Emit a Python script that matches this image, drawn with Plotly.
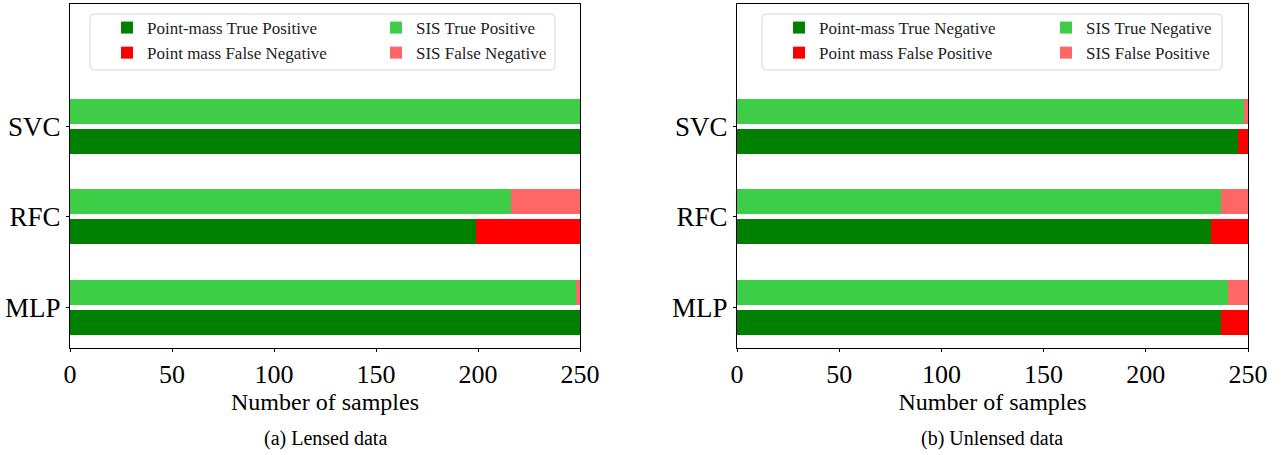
import plotly.graph_objects as go
from plotly.subplots import make_subplots

models = ['MLP', 'RFC', 'SVC']

# lensed data
lensed_pm_tp = [250, 199, 250]
lensed_pm_fn = [0, 51, 0]
lensed_sis_tp = [248, 216, 250]
lensed_sis_fn = [2, 34, 0]

# unlensed data
unlensed_pm_tn = [237, 232, 245]
unlensed_pm_fp = [13, 18, 5]
unlensed_sis_tn = [240, 237, 248]
unlensed_sis_fp = [10, 13, 2]

DARK = '#008000'
RED = '#ff0000'
LIGHT = '#3ecd46'
PINK = '#ff6666'
FONT = 'Liberation Serif'
W, H = 1281, 455

off = 0.166
w = 0.28
pos = list(range(len(models)))
pm_y = [p - off for p in pos]
sis_y = [p + off for p in pos]

fig = make_subplots(rows=1, cols=2)

def add_panel(col, pm_a, pm_b, sis_a, sis_b, names, legs):
  fig.add_trace(go.Bar(x=pm_a, y=pm_y, base=[0]*3, orientation='h', width=w,
    marker=dict(color=DARK, line=dict(width=0)), name=names[0], legend=legs[0]), row=1, col=col)
  fig.add_trace(go.Bar(x=pm_b, y=pm_y, base=pm_a, orientation='h', width=w,
    marker=dict(color=RED, line=dict(width=0)), name=names[1], legend=legs[0]), row=1, col=col)
  fig.add_trace(go.Bar(x=sis_a, y=sis_y, base=[0]*3, orientation='h', width=w,
    marker=dict(color=LIGHT, line=dict(width=0)), name=names[2], legend=legs[1]), row=1, col=col)
  fig.add_trace(go.Bar(x=sis_b, y=sis_y, base=sis_a, orientation='h', width=w,
    marker=dict(color=PINK, line=dict(width=0)), name=names[3], legend=legs[1]), row=1, col=col)

add_panel(1, lensed_pm_tp, lensed_pm_fn, lensed_sis_tp, lensed_sis_fn,
  ['Point-mass True Positive', 'Point mass False Negative', 'SIS True Positive', 'SIS False Negative'],
  ['legend', 'legend2'])
add_panel(2, unlensed_pm_tn, unlensed_pm_fp, unlensed_sis_tn, unlensed_sis_fp,
  ['Point-mass True Negative', 'Point mass False Positive', 'SIS True Negative', 'SIS False Positive'],
  ['legend3', 'legend4'])

axis_common = dict(showline=True, linecolor='black', linewidth=1, mirror=True,
  ticks='outside', ticklen=3, tickcolor='black', showgrid=False, zeroline=False,
  automargin=False)

fig.update_xaxes(range=[0, 250], tickvals=[0, 50, 100, 150, 200, 250],
  tickfont=dict(family=FONT, size=26, color='black'),
  title=dict(text='Number of samples', font=dict(family=FONT, size=24, color='black'), standoff=0),
  **axis_common)
fig.update_yaxes(range=[-0.45, 3.35], tickvals=pos, ticktext=models,
  tickfont=dict(family=FONT, size=27, color='black'), **axis_common)

def leg(xpx):
  return dict(orientation='v', x=xpx/W, y=1-10/H, xanchor='left', yanchor='top',
    font=dict(family=FONT, size=17, color='#222'), borderwidth=0,
    bgcolor='rgba(0,0,0,0)', traceorder='normal')

def rounded_box(x0, y0, x1, y1, r=4):
  x0, x1 = x0/W, x1/W
  y0, y1 = 1-y0/H, 1-y1/H
  rx, ry = r/W, r/H
  return dict(type='path', xref='paper', yref='paper',
    path=(f'M {x0+rx},{y0} L {x1-rx},{y0} Q {x1},{y0} {x1},{y0-ry} '
          f'L {x1},{y1+ry} Q {x1},{y1} {x1-rx},{y1} L {x0+rx},{y1} '
          f'Q {x0},{y1} {x0},{y1+ry} L {x0},{y0-ry} Q {x0},{y0} {x0+rx},{y0} Z'),
    line=dict(color='#d6d6d6', width=1), fillcolor='white', layer='above')

fig.update_layout(
  width=W, height=H,
  margin=dict(l=0, r=0, t=0, b=0),
  plot_bgcolor='white', paper_bgcolor='white',
  barmode='overlay', bargap=0,
  xaxis=dict(domain=[70/W, 580/W]),
  xaxis2=dict(domain=[737/W, 1248/W]),
  yaxis=dict(domain=[1-348/H, 1-4/H]),
  yaxis2=dict(domain=[1-348/H, 1-4/H]),
  legend=leg(107), legend2=leg(376), legend3=leg(779), legend4=leg(1046),
  shapes=[rounded_box(90, 14, 555, 70), rounded_box(762, 14, 1222, 70)],
  annotations=[
    dict(text='(a) Lensed data', x=325/W, y=1-438/H, xref='paper', yref='paper',
      xanchor='center', yanchor='middle',
      showarrow=False, font=dict(family=FONT, size=20, color='black')),
    dict(text='(b) Unlensed data', x=992/W, y=1-438/H, xref='paper', yref='paper',
      xanchor='center', yanchor='middle',
      showarrow=False, font=dict(family=FONT, size=20, color='black')),
  ],
)

# page body has an 8px default margin, drop it so the figure fills the window
fig.write_html('out.html', config={'displayModeBar': False},
  post_script="document.body.style.margin='0px';")
